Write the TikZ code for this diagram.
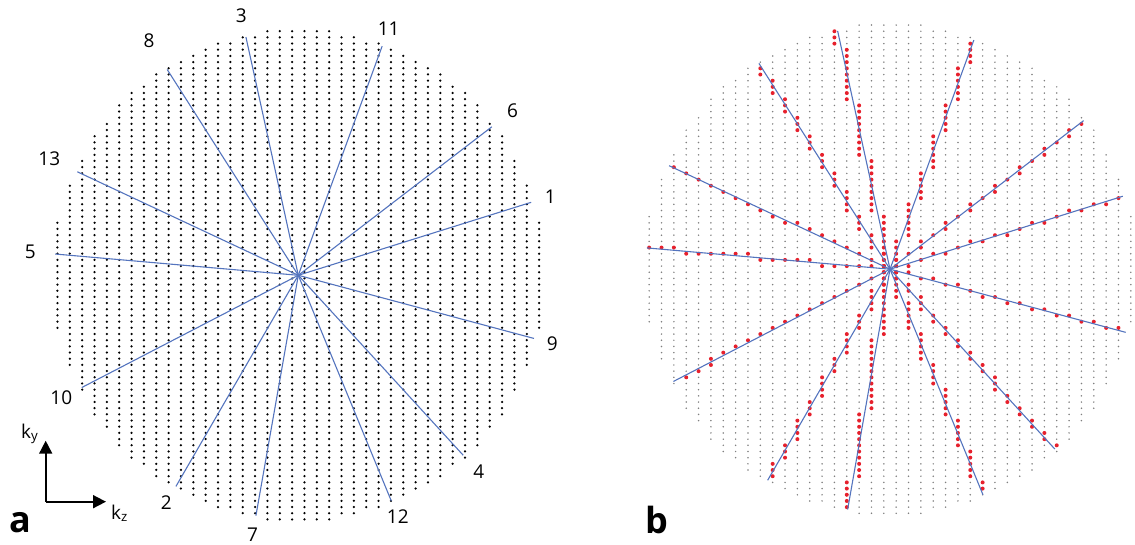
\documentclass[tikz,border=0pt]{standalone}
\usepackage{fontspec}
\setmainfont{Open Sans}
\usetikzlibrary{arrows.meta}

\definecolor{spokeblue}{RGB}{84,116,190}
\definecolor{samplered}{RGB}{230,32,44}

% number / angle / radius of the number, for the 13 spokes
\def\spokes{1/17.4/264, 2/239.9/263, 3/102.4/266, 4/312.5/267,
  5/175.0/269, 6/37.5/270, 7/260.0/263, 8/122.5/278, 9/345.0/263,
  10/207.4/267, 11/69.9/263, 12/292.4/261, 13/154.9/275}

\begin{document}
\begin{tikzpicture}[
    x=1pt, y=1pt,
    gridpt/.style={fill=black},
    graypt/.style={fill=black!50},
    redpt/.style={fill=samplered},
    spoke/.style={draw=spokeblue, line width=1.1pt},
    num/.style={inner sep=0pt, font=\fontsize{19}{22}\selectfont},
    panel/.style={inner sep=0pt, anchor=base, font=\fontsize{36}{40}\selectfont\bfseries},
    axis/.style={-{Triangle[length=13pt, width=13pt]}, line width=1.7pt}
]
\useasboundingbox (0,0) rectangle (1135,545);

\coordinate (ca) at (298.3,269.7);
\coordinate (cb) at (890,275.8);

% panel a: cartesian k-space grid
\begin{scope}[shift={(ca)}, x=12.35pt, y=6.18pt]
  \foreach \col in {1,...,40} {
    \pgfmathsetmacro\uu{\col-20.5}
    \pgfmathtruncatemacro\nrow{floor(40*sqrt(1-(\uu/20)^2)+0.5)}
    \foreach \row in {1,...,\nrow} {
      \fill[gridpt] (\uu,\row-0.5) circle[radius=1.25pt];
      \fill[gridpt] (\uu,0.5-\row) circle[radius=1.25pt];
    }
  }
\end{scope}

% radial spokes with their numbers
\foreach \nlab/\ang/\rad in \spokes {
  \path (ca) ++(\ang:244) coordinate (ea\nlab);
  \path (ca) ++(\ang:\rad) node[num] (na\nlab) {\nlab};
  \draw[spoke] (ca) -- (ea\nlab);
}

% panel b: same grid, nearest points along each spoke
\begin{scope}[shift={(cb)}, x=12.35pt, y=6.18pt]
  \foreach \col in {1,...,40} {
    \pgfmathsetmacro\uu{\col-20.5}
    \pgfmathtruncatemacro\nrow{floor(40*sqrt(1-(\uu/20)^2)+0.5)}
    \foreach \row in {1,...,\nrow} {
      \fill[graypt] (\uu,\row-0.5) circle[radius=0.85pt];
      \fill[graypt] (\uu,0.5-\row) circle[radius=0.85pt];
    }
  }
  \foreach \nlab/\ang/\rad in \spokes {
    \pgfmathsetmacro\ru{19.76*cos(\ang)}
    \pgfmathsetmacro\rv{39.48*sin(\ang)}
    \pgfmathsetmacro\rmax{max(abs(\ru),abs(\rv))}
    \pgfmathtruncatemacro\nstep{round(\rmax)}
    \foreach \s in {1,...,\nstep} {
      \pgfmathsetmacro\tpos{(\s-0.5)/\rmax}
      \fill[redpt] ({floor(\tpos*(\ru))+0.5},{floor(\tpos*(\rv))+0.5}) circle[radius=2pt];
    }
  }
\end{scope}
\foreach \nlab/\ang/\rad in \spokes {
  \path (cb) ++(\ang:244) coordinate (eb\nlab);
  \draw[spoke] (cb) -- (eb\nlab);
}

% axes
\coordinate (o) at (45.7,43.3);
\coordinate (ytip) at (45.7,104.3);
\coordinate (ztip) at (106,43.3);
\draw[axis] (o) -- (ytip);
\draw[axis] (o) -- (ztip);
\node[num, anchor=base west] (kylab) at (21,106.7) {k\textsubscript{y}};
\node[num, anchor=base west] (kzlab) at (111,25.7) {k\textsubscript{z}};

\node[panel] (pa) at (20,12) {a};
\node[panel] (pb) at (656.7,11) {b};
\end{tikzpicture}
\end{document}
